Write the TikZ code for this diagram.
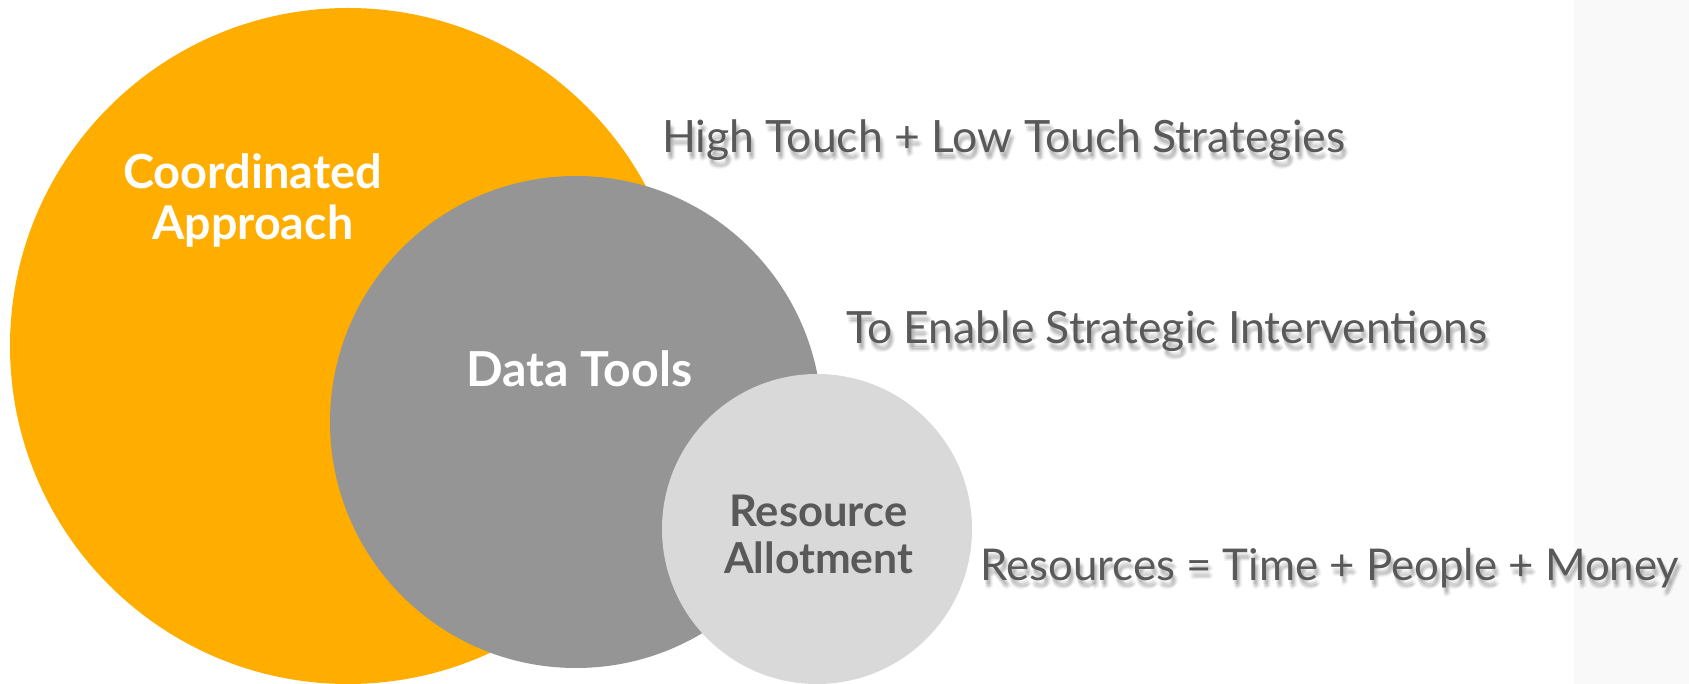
\documentclass[tikz,border=0pt]{standalone}
\usepackage{fontspec}
\setmainfont{Lato}
\definecolor{orng}{HTML}{FFAE00}
\definecolor{midgray}{HTML}{959595}
\definecolor{litgray}{HTML}{D9D9D9}
\definecolor{txtgray}{HTML}{595959}
\definecolor{panelgray}{HTML}{F9F9F9}
\begin{document}
\begin{tikzpicture}[x=1pt,y=-1pt,
  disc/.style={circle, inner sep=0pt, minimum size=#1},
  txt/.style={anchor=base west, inner sep=0pt, font=\fontsize{40}{48}\selectfont},
  bold/.style={txt, font=\fontsize{40}{48}\selectfont\bfseries},
  shadowtxt/.style={txt, text=black, opacity=0.045}]
\path[use as bounding box] (0,0) rectangle (1689,684);
\fill[white] (0,0) rectangle (1689,684);
\fill[panelgray] (1574,0) rectangle (1689,684);
% circles
\node[disc=676pt, fill=orng] (ca) at (348,346) {};
\node[disc=492pt, fill=midgray] (dt) at (576,422) {};
\node[disc=310pt, fill=litgray] (ra) at (817,529) {};
% circle labels
\node[bold, text=white] (l1) at (123,189) {\resizebox{259pt}{!}{Coordinated}};
\node[bold, text=white] (l2) at (152,240) {\resizebox{201pt}{!}{Approach}};
\node[bold, text=white] (l3) at (466,386) {\resizebox{226pt}{!}{Data Tools}};
\node[bold, text=txtgray] (l4) at (729,526) {\resizebox{178pt}{!}{Resource}};
\node[bold, text=txtgray] (l5) at (724,573) {\resizebox{189pt}{!}{Allotment}};
% side labels with soft shadow
\foreach \dx/\dy [count=\i] in {1/4,3/4,2/6,4/6,3/8,1/7,5/7,2/9} {
  \node[shadowtxt] (s1\i) at (662+\dx,153+\dy) {\resizebox{683pt}{!}{High Touch + Low Touch Strategies}};
  \node[shadowtxt] (s2\i) at (846+\dx,344+\dy) {\resizebox{641pt}{!}{To Enable Strategic Interventions}};
  \node[shadowtxt] (s3\i) at (980+\dx,580+\dy) {\resizebox{699pt}{!}{Resources = Time + People + Money}};
}
\node[txt, text=txtgray] (t1) at (662,153) {\resizebox{683pt}{!}{High Touch + Low Touch Strategies}};
\node[txt, text=txtgray] (t2) at (846,344) {\resizebox{641pt}{!}{To Enable Strategic Interventions}};
\node[txt, text=txtgray] (t3) at (980,580) {\resizebox{699pt}{!}{Resources = Time + People + Money}};
\end{tikzpicture}
\end{document}
